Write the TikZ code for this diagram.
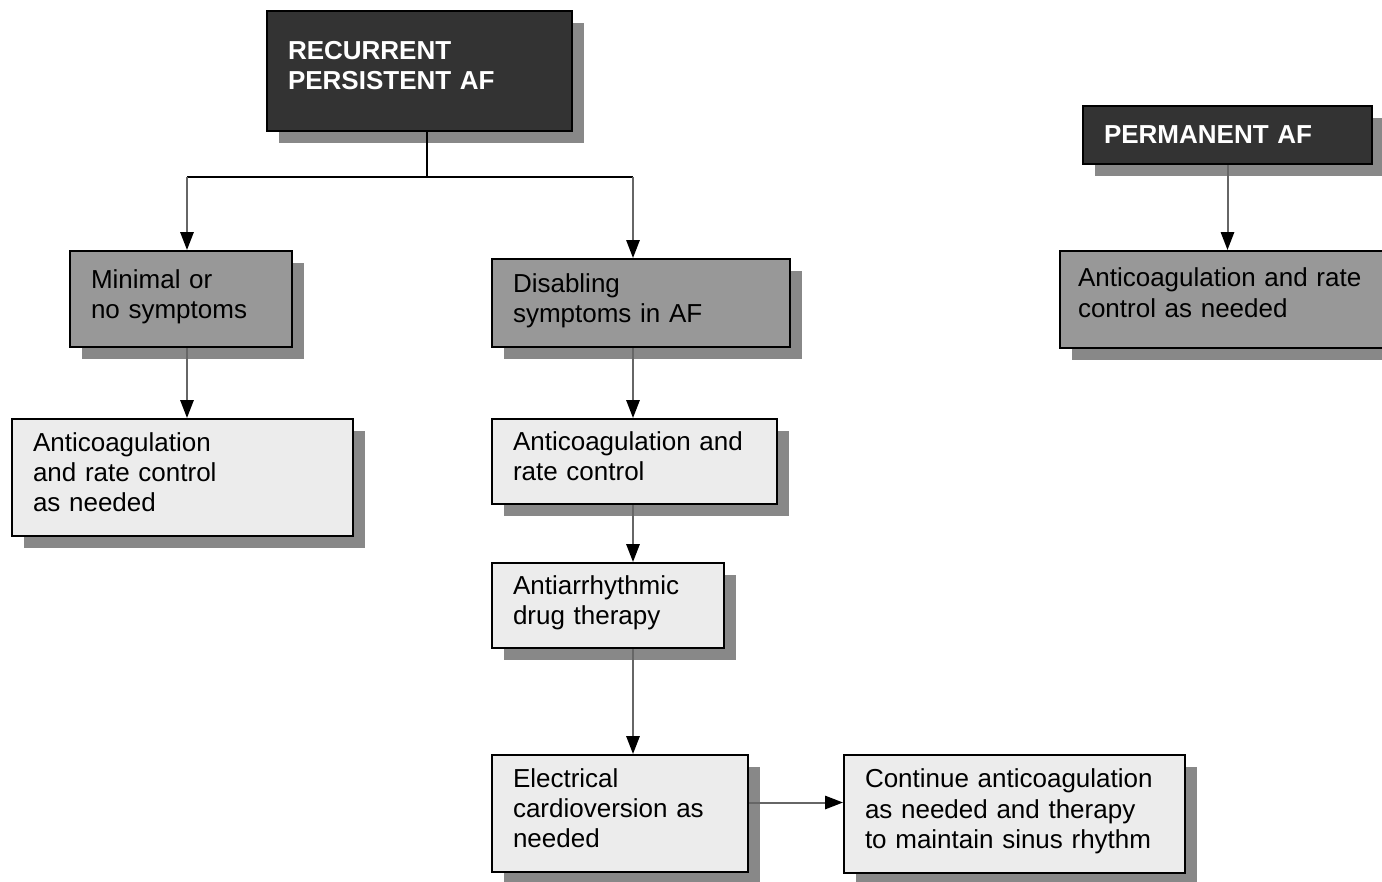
\documentclass[tikz,border=0pt]{standalone}
\usepackage{fontspec}
\setmainfont{Liberation Sans}
\usetikzlibrary{arrows.meta,shadows}
\definecolor{darkfill}{HTML}{333333}
\definecolor{midfill}{HTML}{989898}
\definecolor{lightfill}{HTML}{ECECEC}
\definecolor{shadowgray}{HTML}{888888}
\definecolor{linegray}{HTML}{666666}
\tikzset{
  box/.style 2 args={draw=black, line width=1.5pt, rectangle, anchor=north west,
    align=left, inner xsep=15.75pt, inner ysep=0pt, text width=#1, minimum height=#2,
    font=\fontsize{19.5}{22.6}\selectfont,
    drop shadow={shadow xshift=9pt, shadow yshift=-9pt, fill=shadowgray, opacity=1}},
  darkbox/.style={fill=darkfill, text=white, font=\fontsize{19.5}{22.6}\selectfont\bfseries},
  midbox/.style={fill=midfill},
  lightbox/.style={fill=lightfill},
  lines2/.style={text depth=30.6pt},
  lines3/.style={text depth=53.2pt},
  arr/.style={draw=linegray, line width=1.5pt, -{Triangle[width=10pt,length=13.5pt,black]}}
}
\begin{document}
\begin{tikzpicture}[x=0.75pt, y=-0.75pt]
  \useasboundingbox (0,0) rectangle (1382,882);

  \node[box={197.25pt}{90pt}, darkbox, lines2] (rec) at (266,10) {RECURRENT\\PERSISTENT AF};
  \node[box={185.25pt}{43.5pt}, darkbox] (perm) at (1082,105) {PERMANENT AF};

  \node[box={135pt}{72pt}, midbox, lines2] (minimal) at (69,250) {Minimal or\\no symptoms};
  \node[box={192pt}{66pt}, midbox, lines2] (disab) at (491,258) {Disabling\\symptoms in AF};
  \node[box={216pt}{72.75pt}, midbox, inner xsep=13.5pt, text depth=33pt] (antir) at (1059,250) {Anticoagulation and rate\\control as needed};

  \node[box={224.25pt}{87.75pt}, lightbox, lines3] (antil) at (11,418) {Anticoagulation\\and rate control\\as needed};
  \node[box={182.25pt}{63.75pt}, lightbox, lines2] (antim) at (491,418) {Anticoagulation and\\rate control};
  \node[box={142.5pt}{63.75pt}, lightbox, lines2] (drug) at (491,562) {Antiarrhythmic\\drug therapy};
  \node[box={160.5pt}{87.75pt}, lightbox, lines3] (elec) at (491,754) {Electrical\\cardioversion as\\needed};
  \node[box={224.25pt}{88.5pt}, lightbox, lines3] (cont) at (843,754) {Continue anticoagulation\\as needed and therapy\\to maintain sinus rhythm};

  % branch under the first box
  \coordinate (split) at (427,177);
  \coordinate (barL) at (187,177);
  \coordinate (barR) at (633,177);
  \draw[line width=1.5pt] (split |- rec.south) -- (split);
  \draw[line width=1.5pt] (barL) -- (barR);

  \draw[arr] (barL) -- (barL |- minimal.north);
  \draw[arr] (barR) -- (barR |- disab.north);
  \draw[arr] (barL |- minimal.south) -- (barL |- antil.north);

  \draw[arr] (barR |- disab.south) -- (barR |- antim.north);
  \draw[arr] (barR |- antim.south) -- (barR |- drug.north);
  \draw[arr] (barR |- drug.south) -- (barR |- elec.north);
  \draw[arr] ([yshift=8.25pt]elec.east) -- ([yshift=8.25pt]elec.east -| cont.west);

  \draw[arr] (perm.south) -- (perm.south |- antir.north);
\end{tikzpicture}
\end{document}
